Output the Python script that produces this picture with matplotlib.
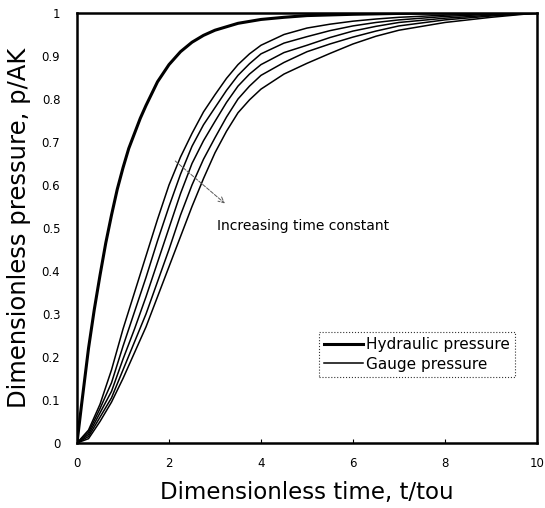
import matplotlib
matplotlib.use("Agg")
import matplotlib.pyplot as plt

# values
t_hyd = [0, 0.05, 0.1, 0.25, 0.375, 0.5, 0.625, 0.75, 0.875, 1, 1.125, 1.25, 1.375,
         1.5, 1.75, 2, 2.25, 2.5, 2.75, 3, 3.5, 4, 4.5, 5, 6, 7, 8, 10]
p_hyd = [0, 0.045, 0.09, 0.22, 0.31, 0.39, 0.465, 0.53, 0.59, 0.64, 0.685, 0.72,
         0.755, 0.785, 0.84, 0.88, 0.91, 0.932, 0.948, 0.96, 0.976, 0.985, 0.99,
         0.994, 0.997, 0.999, 1.0, 1.0]

t_gauge = [0, 0.25, 0.5, 0.75, 1, 1.25, 1.5, 1.75, 2, 2.25, 2.5, 2.75, 3, 3.25,
           3.5, 3.75, 4, 4.5, 5, 5.5, 6, 6.5, 7, 8, 9, 10]
gauge_1 = [0, 0.03, 0.09, 0.17, 0.265, 0.35, 0.435, 0.52, 0.6, 0.665, 0.72, 0.77,
           0.81, 0.848, 0.88, 0.905, 0.925, 0.95, 0.965, 0.974, 0.981, 0.986, 0.99,
           0.995, 0.998, 1.0]
gauge_2 = [0, 0.025, 0.08, 0.14, 0.225, 0.305, 0.385, 0.47, 0.55, 0.625, 0.69, 0.74,
           0.78, 0.82, 0.855, 0.882, 0.905, 0.93, 0.945, 0.959, 0.97, 0.978, 0.984,
           0.992, 0.997, 1.0]
gauge_3 = [0, 0.02, 0.07, 0.12, 0.195, 0.265, 0.34, 0.42, 0.5, 0.58, 0.65, 0.703,
           0.748, 0.792, 0.83, 0.858, 0.88, 0.908, 0.925, 0.943, 0.958, 0.969, 0.978,
           0.988, 0.995, 1.0]
gauge_4 = [0, 0.015, 0.06, 0.105, 0.17, 0.235, 0.30, 0.375, 0.45, 0.53, 0.6, 0.66,
           0.71, 0.758, 0.8, 0.83, 0.855, 0.885, 0.91, 0.928, 0.944, 0.958, 0.97,
           0.984, 0.993, 1.0]
gauge_5 = [0, 0.01, 0.05, 0.095, 0.15, 0.21, 0.27, 0.34, 0.41, 0.48, 0.55, 0.615,
           0.675, 0.725, 0.768, 0.798, 0.823, 0.858, 0.883, 0.906, 0.928, 0.946, 0.96,
           0.978, 0.99, 1.0]
gauges = [gauge_1, gauge_2, gauge_3, gauge_4, gauge_5]

x_ticks = [0, 2, 4, 6, 8, 10]
y_ticks = [0, 0.1, 0.2, 0.3, 0.4, 0.5, 0.6, 0.7, 0.8, 0.9, 1]
y_labels = ["0", "0.1", "0.2", "0.3", "0.4", "0.5", "0.6", "0.7", "0.8", "0.9", "1"]

fig = plt.figure(figsize=(5.45, 5.08), dpi=100)
ax = fig.add_axes([0.1413, 0.128, 0.844, 0.8464])

ax.plot(t_hyd, p_hyd, color="black", lw=2.2, label="Hydraulic pressure")
for i, g in enumerate(gauges):
    ax.plot(t_gauge, g, color="black", lw=1.1,
            label="Gauge pressure" if i == 0 else None)

# arrow showing the direction of increasing time constant
ax.annotate("", xy=(3.26, 0.553), xytext=(2.09, 0.66),
            arrowprops=dict(arrowstyle="->", linestyle="--", lw=0.7, color="0.35"))
ax.text(3.04, 0.505, "Increasing time constant", fontsize=10, va="center", ha="left")

ax.set_xlim(0, 10)
ax.set_ylim(0, 1)
ax.set_xticks(x_ticks)
ax.set_yticks(y_ticks)
ax.set_yticklabels(y_labels)
ax.tick_params(direction="in", length=3, width=0.8, labelsize=8.5)
ax.tick_params(axis="x", pad=10)
ax.tick_params(axis="y", pad=12, length=0)
for s in ax.spines.values():
    s.set_linewidth(1.8)

ax.set_xlabel("Dimensionless time, t/tou", fontsize=16.5, labelpad=8)
ax.set_ylabel("Dimensionless pressure, p/AK", fontsize=17.5, labelpad=8)

leg = ax.legend(loc="lower right", bbox_to_anchor=(0.952, 0.153), fontsize=11,
                fancybox=False, handlelength=2.5, handletextpad=0.2,
                borderpad=0.35, labelspacing=0.3, borderaxespad=0)
leg.get_frame().set_linestyle(":")
leg.get_frame().set_edgecolor("black")
leg.get_frame().set_linewidth(0.8)

fig.savefig("out.png", dpi=100)
